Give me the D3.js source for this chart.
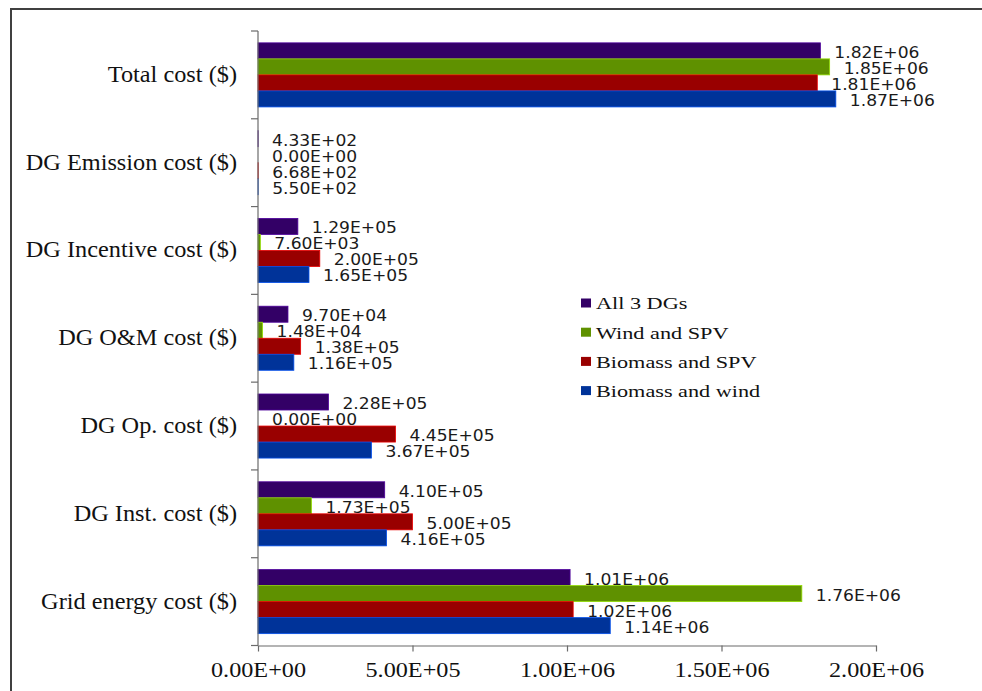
<!DOCTYPE html>
<html>
<head>
<meta charset="utf-8">
<script src="https://cdn.jsdelivr.net/npm/d3@7"></script>
<style>
  html, body { margin: 0; padding: 0; background: #fff; }
  svg { display: block; }
</style>
</head>
<body>
<script>
// Cost breakdown per DG combination
const categories = [
  "Total cost ($)",
  "DG Emission cost ($)",
  "DG Incentive cost ($)",
  "DG O&M cost ($)",
  "DG Op. cost ($)",
  "DG Inst. cost ($)",
  "Grid energy cost ($)"
];
const seriesNames = ["All 3 DGs", "Wind and SPV", "Biomass and SPV", "Biomass and wind"];
const all3DGs      = [1.82e6, 433, 1.29e5, 9.70e4, 2.28e5, 4.10e5, 1.01e6];
const windSPV      = [1.85e6, 0,   7.60e3, 1.48e4, 0,      1.73e5, 1.76e6];
const biomassSPV   = [1.81e6, 668, 2.00e5, 1.38e5, 4.45e5, 5.00e5, 1.02e6];
const biomassWind  = [1.87e6, 550, 1.65e5, 1.16e5, 3.67e5, 4.16e5, 1.14e6];
const xTicks      = [0, 5e5, 1e6, 1.5e6, 2e6];
const xTickLabels = ["0.00E+00", "5.00E+05", "1.00E+06", "1.50E+06", "2.00E+06"];

const seriesValues = [all3DGs, windSPV, biomassSPV, biomassWind];
const colors = ["#330066", "#5f9100", "#990000", "#003399"];

const W = 982, H = 691;
const svg = d3.select("body").append("svg").attr("width", W).attr("height", H);
svg.append("rect").attr("width", W).attr("height", H).attr("fill", "#fff");

// outer frame
svg.append("rect")
  .attr("x", 11).attr("y", 9).attr("width", 1000).attr("height", 720)
  .attr("fill", "none").attr("stroke", "#404040").attr("stroke-width", 2);

const plot = { left: 258, right: 876, top: 31, bottom: 645.5 };

const x = d3.scaleLinear().domain([0, 2e6]).range([plot.left, plot.right]);
const y = d3.scaleBand().domain(categories).range([plot.top, plot.bottom]).padding(0);
const ys = d3.scaleBand().domain(seriesNames).range([0, y.bandwidth()])
  .paddingInner(0).paddingOuter(0.74);

// stretch text horizontally to a wider set width
function widen(sel, k) {
  sel.each(function () {
    const w = this.getComputedTextLength();
    d3.select(this).attr("textLength", w * k).attr("lengthAdjust", "spacingAndGlyphs");
  });
}

function fmtE(v) {
  if (v === 0) return "0.00E+00";
  let e = Math.floor(Math.log10(Math.abs(v)));
  let m = v / Math.pow(10, e);
  if (Math.abs(m) >= 9.995) { m /= 10; e += 1; }
  const sign = e < 0 ? "-" : "+";
  return m.toFixed(2) + "E" + sign + String(Math.abs(e)).padStart(2, "0");
}

// bars
const rows = [];
categories.forEach((c, i) => {
  seriesNames.forEach((s, j) => rows.push({ cat: c, ser: s, j, value: seriesValues[j][i] }));
});

const barG = svg.append("g");
barG.selectAll("rect").data(rows.filter(d => d.value > 0)).join("rect")
  .attr("x", x(0))
  .attr("y", d => y(d.cat) + ys(d.ser))
  .attr("width", d => x(d.value) - x(0))
  .attr("height", ys.bandwidth())
  .attr("fill", d => colors[d.j])
  .attr("stroke", d => d3.color(colors[d.j]).brighter(1.2))
  .attr("stroke-width", 0.8);

// value labels
const vl = svg.append("g")
  .attr("font-family", "'DejaVu Sans', Verdana, sans-serif")
  .attr("font-size", 16)
  .attr("fill", "#1a1a1a");
vl.selectAll("text").data(rows).join("text")
  .attr("x", d => x(d.value) + 14)
  .attr("y", d => y(d.cat) + ys(d.ser) + ys.bandwidth() / 2 + 7)
  .text(d => fmtE(d.value))
  .call(widen, 1.07);

// y axis: line plus ticks at category boundaries
const axisColor = "#6b6b6b";
svg.append("line")
  .attr("x1", x(0)).attr("x2", x(0))
  .attr("y1", plot.top).attr("y2", plot.bottom)
  .attr("stroke", axisColor).attr("stroke-width", 1.2);
const bounds = categories.map(c => y(c)).concat([plot.bottom]);
svg.append("g").selectAll("line").data(bounds).join("line")
  .attr("x1", x(0) - 7).attr("x2", x(0))
  .attr("y1", d => d).attr("y2", d => d)
  .attr("stroke", axisColor).attr("stroke-width", 1.2);

// category labels
const cl = svg.append("g")
  .attr("font-family", "'Liberation Serif', 'Times New Roman', serif")
  .attr("font-size", 22.5)
  .attr("fill", "#111");
cl.selectAll("text").data(categories).join("text")
  .attr("x", 237)
  .attr("y", d => y(d) + y.bandwidth() / 2 + 7)
  .attr("text-anchor", "end")
  .text(d => d)
  .call(widen, 1.08);

// x axis
const xAxis = d3.axisBottom(x)
  .tickValues(xTicks)
  .tickFormat((d, i) => xTickLabels[i])
  .tickSize(6)
  .tickSizeOuter(0)
  .tickPadding(12);
const gx = svg.append("g").attr("transform", `translate(0,${plot.bottom})`).call(xAxis);
gx.select(".domain").attr("stroke", axisColor).attr("stroke-width", 1.2);
gx.selectAll(".tick line").attr("stroke", axisColor).attr("stroke-width", 1.2);
gx.selectAll(".tick text")
  .attr("font-family", "'Liberation Serif', 'Times New Roman', serif")
  .attr("font-size", 20)
  .attr("fill", "#111")
  .attr("dy", null)
  .attr("y", 31)
  .call(widen, 1.21);

// legend
const leg = svg.append("g").attr("transform", "translate(581,303)");
const li = leg.selectAll("g").data(seriesNames).join("g")
  .attr("transform", (d, i) => `translate(0,${i * 29.2})`);
li.append("rect")
  .attr("x", 0).attr("y", -4.5).attr("width", 10).attr("height", 9)
  .attr("fill", (d, i) => colors[i]);
li.append("text")
  .attr("x", 15).attr("y", 6.3)
  .attr("font-family", "'Liberation Serif', 'Times New Roman', serif")
  .attr("font-size", 17.5)
  .attr("fill", "#111")
  .text(d => d)
  .call(widen, 1.27);
</script>
</body>
</html>
